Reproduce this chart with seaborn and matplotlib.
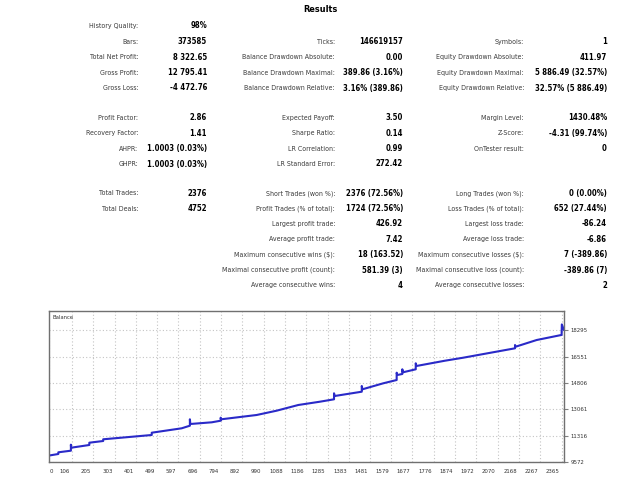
import matplotlib
matplotlib.use("Agg")
import matplotlib.pyplot as plt
import matplotlib.transforms as mtransforms
from matplotlib import font_manager
from matplotlib.font_manager import FontProperties
import seaborn as sns
import pandas as pd

# ---------------- data ----------------
title = "Results"

col1_labels = ["History Quality:", "Bars:", "Total Net Profit:", "Gross Profit:", "Gross Loss:",
               "Profit Factor:", "Recovery Factor:", "AHPR:", "GHPR:",
               "Total Trades:", "Total Deals:"]
col1_values = ["98%", "373585", "8 322.65", "12 795.41", "-4 472.76",
               "2.86", "1.41", "1.0003 (0.03%)", "1.0003 (0.03%)",
               "2376", "4752"]
col1_rows = [0, 1, 2, 3, 4, 5, 6, 7, 8, 9, 10]

col2_labels = ["Ticks:", "Balance Drawdown Absolute:", "Balance Drawdown Maximal:", "Balance Drawdown Relative:",
               "Expected Payoff:", "Sharpe Ratio:", "LR Correlation:", "LR Standard Error:",
               "Short Trades (won %):", "Profit Trades (% of total):", "Largest profit trade:",
               "Average profit trade:", "Maximum consecutive wins ($):",
               "Maximal consecutive profit (count):", "Average consecutive wins:"]
col2_values = ["146619157", "0.00", "389.86 (3.16%)", "3.16% (389.86)",
               "3.50", "0.14", "0.99", "272.42",
               "2376 (72.56%)", "1724 (72.56%)", "426.92",
               "7.42", "18 (163.52)", "581.39 (3)", "4"]
col2_rows = [1, 2, 3, 4, 5, 6, 7, 8, 9, 10, 11, 12, 13, 14, 15]

col3_labels = ["Symbols:", "Equity Drawdown Absolute:", "Equity Drawdown Maximal:", "Equity Drawdown Relative:",
               "Margin Level:", "Z-Score:", "OnTester result:",
               "Long Trades (won %):", "Loss Trades (% of total):", "Largest loss trade:",
               "Average loss trade:", "Maximum consecutive losses ($):",
               "Maximal consecutive loss (count):", "Average consecutive losses:"]
col3_values = ["1", "411.97", "5 886.49 (32.57%)", "32.57% (5 886.49)",
               "1430.48%", "-4.31 (99.74%)", "0",
               "0 (0.00%)", "652 (27.44%)", "-86.24",
               "-6.86", "7 (-389.86)", "-389.86 (7)", "2"]
col3_rows = [1, 2, 3, 4, 5, 6, 7, 9, 10, 11, 12, 13, 14, 15]

trade = [0, 43, 43, 101, 101, 102, 186, 186, 250, 250, 474, 474, 612, 650, 650, 652,
         751, 792, 792, 794, 958, 1050, 1150, 1250, 1315, 1315, 1318, 1443, 1443, 1446,
         1542, 1604, 1604, 1607, 1630, 1630, 1633, 1692, 1692, 1695, 1827, 1911,
         2150, 2150, 2153, 2250, 2365, 2366, 2376]
balance = [10000, 10103, 10215, 10322, 10720, 10520, 10700, 10852, 10965, 11078, 11363, 11515,
           11807, 11980, 12404, 12093, 12205, 12311, 12510, 12404, 12690, 12975, 13353, 13572,
           13731, 14129, 13950, 14235, 14613, 14394, 14792, 15011, 15495, 15343, 15410, 15721,
           15522, 15721, 16119, 15940, 16291, 16490, 17114, 17333, 17220, 17664, 18000, 18700, 18323]

x_ticks = [0, 106, 205, 303, 401, 499, 597, 696, 794, 892, 990, 1088, 1186, 1285, 1383,
           1481, 1579, 1677, 1776, 1874, 1972, 2070, 2168, 2267, 2365]
y_ticks = [9572, 11316, 13061, 14806, 16551, 18295]

# ---------------- style ----------------
sns.set_style("white")
ttf = font_manager.fontManager.ttflist
avail = {f.name for f in ttf}
base = "Liberation Sans" if "Liberation Sans" in avail else "DejaVu Sans"
plt.rcParams["font.family"] = [base, "DejaVu Sans"]


def pick_font():
    # Prefer a condensed humanist sans (closest to Tahoma)
    reg = bold = None
    for f in ttf:
        if f.name == "DejaVu Sans" and "ondensed" in f.fname and f.style == "normal":
            w = f.weight if isinstance(f.weight, int) else (700 if "bold" in str(f.weight).lower() else 400)
            if w >= 600 and bold is None:
                bold = f.fname
            elif w < 600 and reg is None:
                reg = f.fname
    if reg and bold:
        return FontProperties(fname=reg), FontProperties(fname=bold)
    if "Liberation Sans Narrow" in avail:
        return (FontProperties(family="Liberation Sans Narrow"),
                FontProperties(family="Liberation Sans Narrow", weight="bold"))
    return FontProperties(family=base), FontProperties(family=base, weight="bold")


fp_reg, fp_bold = pick_font()

W, H = 640, 480
fig = plt.figure(figsize=(6.4, 4.8), dpi=100)
fig.patch.set_facecolor("white")
renderer = fig.canvas.get_renderer()


def fit_size(s, target_px, fp):
    p = fp.copy()
    p.set_size(10)
    t = fig.text(0, 0, s, fontproperties=p)
    w = t.get_window_extent(renderer).width
    t.remove()
    return 10 * target_px / w


label_fs = fit_size("Balance Drawdown Absolute:", 93, fp_reg)
value_fs = fit_size("146619157", 43.5, fp_bold)
title_fs = fit_size("Results", 34, fp_bold)
tick_fs = fit_size("18295", 17, fp_reg)
bal_fs = fit_size("Balance", 21, fp_reg)

row_y = [26, 42, 57.3, 72.7, 88, 118, 133.3, 148.7, 164, 193.3, 208.7, 224, 239.3, 254.7, 270, 285.3]
label_color = "#3a3a3a"


def put(x, y, s, fp, fs, color="black", ha="right"):
    p = fp.copy()
    p.set_size(fs)
    fig.text(x / W, 1 - y / H, s, ha=ha, va="center", fontproperties=p, color=color)


put(320, 9, title, fp_bold, title_fs, ha="center")

for labels, values, rows, lx, vx in [(col1_labels, col1_values, col1_rows, 138.5, 207),
                                     (col2_labels, col2_values, col2_rows, 335, 403),
                                     (col3_labels, col3_values, col3_rows, 524, 607)]:
    for lab, val, r in zip(labels, values, rows):
        put(lx, row_y[r], lab, fp_reg, label_fs, color=label_color)
        put(vx, row_y[r], val, fp_bold, value_fs)

# ---------------- balance chart ----------------
ax = fig.add_axes([49 / W, 1 - 462 / H, (564 - 49) / W, (462 - 311) / H])
df = pd.DataFrame({"trade": trade, "balance": balance})
sns.lineplot(data=df, x="trade", y="balance", ax=ax, color="#2a2ac8", linewidth=1.5,
             estimator=None, sort=False)

ax.set_xlim(0, 2376)
ax.set_ylim(9572, 19588)
ax.set_xticks(x_ticks)
ax.set_xticklabels([str(v) for v in x_ticks])
ax.set_yticks(y_ticks)
ax.set_yticklabels([str(v) for v in y_ticks])
ax.yaxis.tick_right()
ax.set_xlabel("")
ax.set_ylabel("")
ax.tick_params(axis="both", which="major", direction="out", length=3, width=0.8,
               color="#808080", labelcolor="#333333", pad=2)
ax.grid(True, linestyle=(0, (1, 2)), color="#c4c4c4", linewidth=0.8)
for sp in ax.spines.values():
    sp.set_color("#707070")
    sp.set_linewidth(1.0)

tick_fp = fp_reg.copy()
tick_fp.set_size(tick_fs)
shift = mtransforms.ScaledTranslation(-2 / 100, 0, fig.dpi_scale_trans)
for i, lab in enumerate(ax.get_xticklabels()):
    lab.set_fontproperties(tick_fp)
    if i == 0:
        lab.set_horizontalalignment("left")
        lab.set_transform(lab.get_transform() + mtransforms.ScaledTranslation(1 / 100, 0, fig.dpi_scale_trans))
    else:
        lab.set_horizontalalignment("right")
        lab.set_transform(lab.get_transform() + shift)
for lab in ax.get_yticklabels():
    lab.set_fontproperties(tick_fp)

bal_fp = fp_reg.copy()
bal_fp.set_size(bal_fs)
ax.text(0.006, 0.975, "Balance", transform=ax.transAxes, ha="left", va="top",
        fontproperties=bal_fp, color="#333333")

fig.savefig("out.png", dpi=100, facecolor="white")
